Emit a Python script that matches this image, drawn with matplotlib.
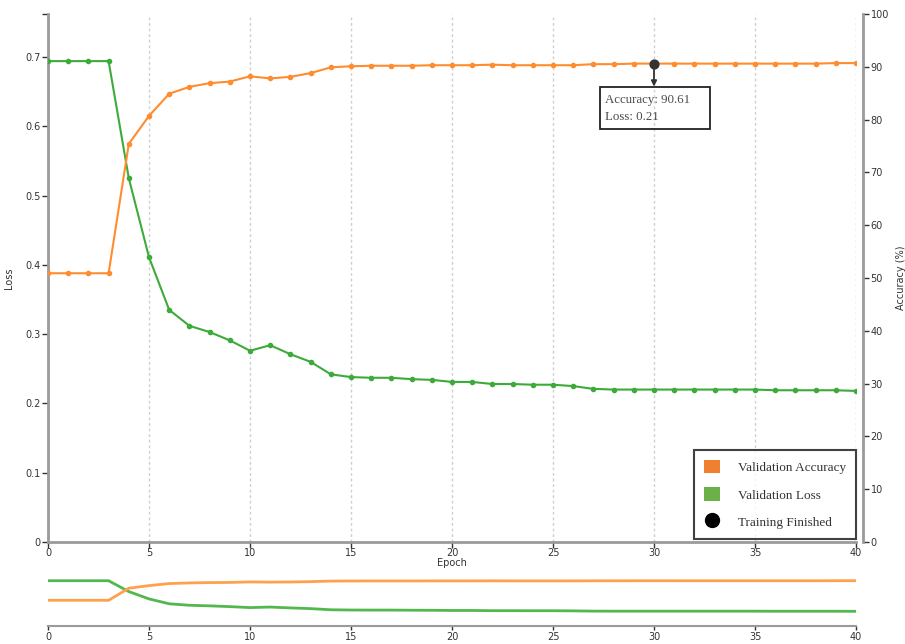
import matplotlib
matplotlib.use("Agg")
import matplotlib.pyplot as plt
from matplotlib.patches import Patch, Rectangle
from matplotlib.lines import Line2D
from matplotlib.transforms import offset_copy, Affine2D

epochs = list(range(41))
val_loss = [0.694, 0.694, 0.694, 0.694, 0.525, 0.411, 0.335, 0.312, 0.303, 0.291,
            0.276, 0.284, 0.271, 0.260, 0.242, 0.238, 0.237, 0.237, 0.235, 0.234,
            0.231, 0.231, 0.228, 0.228, 0.227, 0.227, 0.225, 0.221, 0.220, 0.220,
            0.220, 0.220, 0.220, 0.220, 0.220, 0.220, 0.219, 0.219, 0.219, 0.219, 0.218]
val_acc = [50.9, 50.9, 50.9, 50.9, 75.4, 80.7, 84.9, 86.2, 86.9, 87.2,
           88.2, 87.8, 88.1, 88.8, 89.9, 90.1, 90.2, 90.2, 90.2, 90.3,
           90.3, 90.3, 90.4, 90.3, 90.3, 90.3, 90.3, 90.5, 90.5, 90.6,
           90.61, 90.6, 90.6, 90.6, 90.6, 90.6, 90.6, 90.6, 90.6, 90.7, 90.7]
finish_epoch = 30
finish_acc = 90.61
finish_loss = 0.21
x_ticks = [0, 5, 10, 15, 20, 25, 30, 35, 40]
loss_ticks = [0, 0.1, 0.2, 0.3, 0.4, 0.5, 0.6, 0.7]
loss_tick_labels = ["0", "0.1", "0.2", "0.3", "0.4", "0.5", "0.6", "0.7"]
acc_ticks = [0, 10, 20, 30, 40, 50, 60, 70, 80, 90, 100]

W, H = 905, 644
fig = plt.figure(figsize=(W / 100, H / 100), dpi=100)

ORANGE = "#ff8c2e"
GREEN = "#3dab3a"
AXC = "#9a9a9a"
TXT = "#333333"

def fx(px):
    return px / W

def fy(py):
    return 1 - py / H

# main axes
L, R, T, B = 48, 856, 14, 542
ax = fig.add_axes([fx(L), fy(B), fx(R) - fx(L), fy(T) - fy(B)])
ax.set_xlim(0, 40)
ax.set_ylim(0, 0.762)
for s in ["top", "right"]:
    ax.spines[s].set_visible(False)
for s in ["left", "bottom"]:
    ax.spines[s].set_color(AXC)
    ax.spines[s].set_linewidth(2)
ax.set_xticks(x_ticks)
ax.set_yticks(loss_ticks)
ax.set_yticklabels(loss_tick_labels)
ax.tick_params(axis="both", labelsize=7, colors=TXT, length=4, width=1, pad=1.5)
ax.tick_params(axis="x", pad=0.5)
ax.set_yticks([0.762], minor=True)
ax.tick_params(axis="y", which="minor", length=4, width=1, color=TXT)
for xv in x_ticks[1:]:
    ax.axvline(xv, color="#cfcfcf", lw=1, ls=(0, (2, 2)), zorder=0)
ax.set_xlabel("Epoch", fontsize=7, color=TXT, labelpad=0)
ax.set_ylabel("Loss", fontsize=7, color=TXT)
ax.yaxis.set_label_coords((14 - L) / (R - L), 0.5)

ax.plot(epochs, val_loss, color=GREEN, lw=1.5, marker="o", ms=3, zorder=3)

ax2 = ax.twinx()
ax2.set_ylim(0, 100)
for s in ["top", "left", "bottom"]:
    ax2.spines[s].set_visible(False)
ax2.spines["right"].set_position(("outward", 5))
ax2.spines["right"].set_color(AXC)
ax2.spines["right"].set_linewidth(2)
ax2.set_yticks(acc_ticks)
ax2.tick_params(axis="y", labelsize=7, colors=TXT, length=4, width=1, pad=1.5)
ax2.set_ylabel("Accuracy (%)", fontsize=7, color=TXT, rotation=90, va="center")
ax2.yaxis.set_label_coords((901 - L) / (R - L), 0.5)
ax2.plot(epochs, val_acc, color=ORANGE, lw=1.5, marker="o", ms=3, zorder=3)
ax2.scatter([finish_epoch], [finish_acc], s=40, color="#333333", zorder=5)

# annotation
ax2.annotate("", xy=(finish_epoch, finish_acc), xytext=(0, -23), textcoords="offset pixels",
             arrowprops=dict(arrowstyle="<|-", color="#333333", lw=1.3, shrinkA=0, shrinkB=3,
                             mutation_scale=8))
fig.canvas.draw()
px, py = ax2.transData.transform((finish_epoch, finish_acc))
rect = Rectangle((px - 54, py - 23 - 42), 110, 42, transform=Affine2D(), fill=False,
                 edgecolor="#222222", lw=1.3, zorder=6, clip_on=False)
ax2.add_artist(rect)
tt = offset_copy(ax2.transData, fig=fig, x=-49, y=-30, units="dots")
ax2.text(finish_epoch, finish_acc, f"Accuracy: {finish_acc:.2f}\nLoss: {finish_loss:.2f}",
         transform=tt, va="top", ha="left", family="Liberation Serif", fontsize=9.3,
         color="#4a4a4a", linespacing=1.55, zorder=7)

# legend
handles = [Patch(facecolor="#f08030", edgecolor="none"),
           Patch(facecolor="#6cb04a", edgecolor="none"),
           Line2D([], [], ls="none", marker="o", color="black", ms=10)]
labels = ["Validation Accuracy", "Validation Loss", "Training Finished"]
leg = ax2.legend(handles, labels, loc="lower right", bbox_to_anchor=(1.0, 0.006),
                 prop={"family": "Liberation Serif", "size": 9.5}, frameon=True,
                 fancybox=False, edgecolor="#111111", borderpad=0.75, labelspacing=1.0,
                 handlelength=1.2, handleheight=1.2, handletextpad=1.4, borderaxespad=0)
leg.get_frame().set_linewidth(1.5)
for t in leg.get_texts():
    t.set_color("#333333")

# overview panel
oT, oB = 575, 626
ox = fig.add_axes([fx(L), fy(oB), fx(R) - fx(L), fy(oT) - fy(oB)])
ox.set_xlim(0, 40)
ox.set_ylim(-0.0105, 0.783)
for s in ["top", "right", "left"]:
    ox.spines[s].set_visible(False)
ox.spines["bottom"].set_color(AXC)
ox.spines["bottom"].set_linewidth(1.5)
ox.set_yticks([])
ox.set_xticks(x_ticks)
ox.tick_params(axis="x", labelsize=7, colors=TXT, length=3, width=1, pad=1)
ox.plot(epochs, val_loss, color="#52b84e", lw=2)
ox2 = ox.twinx()
ox2.set_ylim(-1.3, 102.3)
for s in ["top", "right", "left", "bottom"]:
    ox2.spines[s].set_visible(False)
ox2.set_yticks([])
ox2.plot(epochs, val_acc, color="#ffa04d", lw=2)

fig.savefig("out.png", dpi=100)
